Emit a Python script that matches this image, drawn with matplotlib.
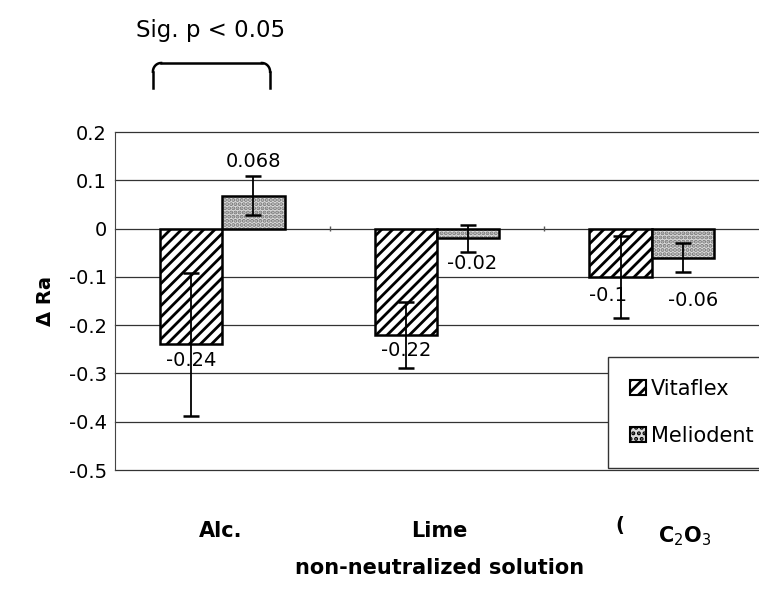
import matplotlib.pyplot as plt
import numpy as np

plt.rcParams['font.family'] = ['DejaVu Sans']
plt.rcParams['hatch.linewidth'] = 2.0

# data
categories = ["Alc.", "Lime", "C$_2$O$_3$"]
vitaflex = [-0.24, -0.22, -0.10]
meliodent = [0.068, -0.02, -0.06]
vitaflex_err = [0.148, 0.068, 0.085]
meliodent_err = [0.040, 0.028, 0.030]
vitaflex_labels = ["-0.24", "-0.22", "-0.1"]
meliodent_labels = ["0.068", "-0.02", "-0.06"]
yticks = [0.2, 0.1, 0, -0.1, -0.2, -0.3, -0.4, -0.5]

fig = plt.figure(figsize=(7.59, 6.05), dpi=100)
ax = fig.add_axes([0.1515, 0.2231, 0.8485, 0.5587])

x = np.arange(len(categories))
w = 0.29

# grid
for yv in yticks:
    ax.axhline(yv, color='#333333', lw=0.9, zorder=0, clip_on=False)

ax.bar(x - w / 2, vitaflex, w, facecolor='white', edgecolor='black',
       hatch='///', linewidth=1.8, label='Vitaflex', zorder=2)
# speckled fill for Meliodent: grey dots, then the black outline on top
ax.bar(x + w / 2, meliodent, w, facecolor='#dcdcdc', edgecolor='#777777',
       hatch='....', linewidth=0, zorder=2)
ax.bar(x + w / 2, meliodent, w, facecolor='none', edgecolor='black',
       linewidth=1.8, zorder=2)
# legend proxies
mel_proxy = plt.Rectangle((0, 0), 1, 1, facecolor='#dcdcdc', edgecolor='black',
                          hatch='...', linewidth=1.5)
vit_proxy = plt.Rectangle((0, 0), 1, 1, facecolor='white', edgecolor='black',
                          hatch='///', linewidth=1.5)

ax.errorbar(x - w / 2, vitaflex, yerr=vitaflex_err, fmt='none', ecolor='black',
            elinewidth=1.3, capsize=6, capthick=1.8, zorder=3)
ax.errorbar(x + w / 2, meliodent, yerr=meliodent_err, fmt='none', ecolor='black',
            elinewidth=1.3, capsize=6, capthick=1.8, zorder=3)

# value labels
fs = 14
ax.text(x[0] - w / 2, vitaflex[0] - 0.014, vitaflex_labels[0], ha='center', va='top', fontsize=fs, zorder=4)
ax.text(x[0] + w / 2, meliodent[0] + meliodent_err[0] + 0.012, meliodent_labels[0], ha='center', va='bottom', fontsize=fs, zorder=4)
ax.text(x[1] - w / 2, vitaflex[1] - 0.012, vitaflex_labels[1], ha='center', va='top', fontsize=fs, zorder=4)
ax.text(x[1] + w / 2 + 0.02, meliodent[1] - 0.052, meliodent_labels[1], ha='center', va='center', fontsize=fs, zorder=4)
ax.text(x[2] - w / 2 - 0.06, vitaflex[2] - 0.018, vitaflex_labels[2], ha='center', va='top', fontsize=fs, zorder=4)
ax.text(x[2] + w / 2 + 0.05, meliodent[2] - 0.088, meliodent_labels[2], ha='center', va='center', fontsize=fs, zorder=4)

# small category separator ticks on the zero line
ax.vlines([0.5, 1.5], -0.006, 0.006, color='#555555', lw=1, zorder=1)

ax.set_xlim(-0.5, 2.5)
ax.set_ylim(-0.5, 0.2)
ax.set_yticks(yticks)
ax.set_yticklabels([f"{v:g}" for v in yticks], fontsize=14)
ax.tick_params(axis='y', length=0, pad=6)
ax.set_xticks([])
for s in ['top', 'right', 'bottom']:
    ax.spines[s].set_visible(False)
ax.spines['left'].set_color('#444444')

# category labels, placed as in the reference
trans = ax.get_xaxis_transform()
ax.text(x[0] - 0.01, -0.18, categories[0], transform=trans, fontsize=15, fontweight='bold', ha='center', va='center')
ax.text(x[1] + 0.01, -0.18, categories[1], transform=trans, fontsize=15, fontweight='bold', ha='center', va='center')
ax.text(x[2] - 0.15, -0.165, "(", transform=trans, fontsize=14, fontweight='bold', ha='center', va='center')
ax.text(x[2] + 0.155, -0.195, categories[2], transform=trans, fontsize=15, fontweight='bold', ha='center', va='center')

fig.text(440 / 759, 1 - 568 / 605, "non-neutralized solution", fontsize=15, fontweight='bold', ha='center', va='center')
ax.set_ylabel("\u0394 Ra", fontsize=14, fontweight='bold', labelpad=10)

leg = ax.legend([vit_proxy, mel_proxy], ['Vitaflex', 'Meliodent'],
                loc='upper left', bbox_to_anchor=(0.766, 0.334), fontsize=15,
                frameon=True, fancybox=False, edgecolor='#333333', framealpha=1,
                handlelength=0.75, handleheight=0.75, handletextpad=0.25,
                labelspacing=1.3, borderpad=1.05, borderaxespad=0)
leg.get_frame().set_linewidth(1.0)

# significance bracket
fig.text(0.278, 0.950, "Sig. p < 0.05", fontsize=16.5, ha='center', va='center')
bx0, bx1, btop, bbot = 152 / 759, 271 / 759, 1 - 63 / 605, 1 - 88 / 605
r = 0.012
kw = dict(color='black', lw=1.8, transform=fig.transFigure)
fig.lines.append(plt.Line2D([bx0 + r, bx1 - r], [btop, btop], **kw))
th = np.linspace(0, np.pi / 2, 20)
fig.lines.append(plt.Line2D(bx0 + r - r * np.cos(th) * 0.9, btop - r * 1.2 + r * 1.2 * np.sin(th), **kw))
fig.lines.append(plt.Line2D(bx1 - r + r * np.cos(th) * 0.9, btop - r * 1.2 + r * 1.2 * np.sin(th), **kw))
fig.lines.append(plt.Line2D([bx0 + r * 0.1, bx0 + r * 0.1], [btop - r * 1.2, bbot], **kw))
fig.lines.append(plt.Line2D([bx1 - r * 0.1, bx1 - r * 0.1], [btop - r * 1.2, bbot], **kw))

fig.savefig("out.png", dpi=100)
